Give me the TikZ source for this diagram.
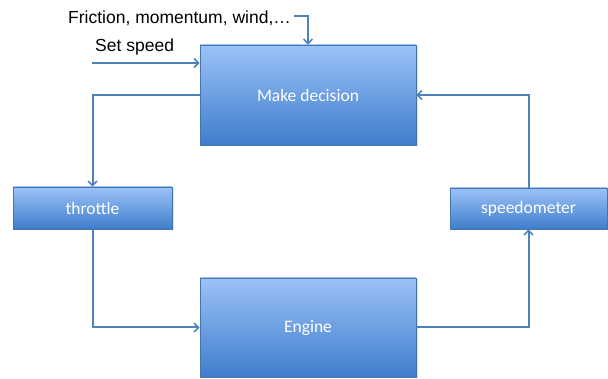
\documentclass[tikz,border=0pt]{standalone}
\usepackage{fontspec}
\setmainfont{Liberation Sans}
\newfontfamily\boxfont{Carlito}
\usetikzlibrary{arrows.meta,shadows}
\definecolor{lineblue}{HTML}{4F81BD}
\definecolor{topblue}{HTML}{9CC2F8}
\definecolor{botblue}{HTML}{3E7DCC}
\tikzset{
  blockbox/.style={draw=lineblue!90!black, line width=0.7pt, top color=topblue, bottom color=botblue,
    text=white, font=\boxfont\fontsize{17.5}{20}\selectfont, inner sep=0pt,
    drop shadow={shadow xshift=1.5pt, shadow yshift=-1.5pt, opacity=0.25}},
  conn/.style={draw=lineblue, line width=2pt, -{Straight Barb[length=4.5pt,width=9pt,line width=1.6pt]}},
  lab/.style={font=\fontsize{17.5}{20}\selectfont, inner sep=0pt, anchor=base west}
}
\begin{document}
\begin{tikzpicture}[x=1pt,y=-1pt]
\useasboundingbox (0,0) rectangle (608,379);
\node[blockbox, minimum width=216pt, minimum height=100pt] (dec) at (308,95) {Make decision};
\node[blockbox, minimum width=159pt, minimum height=42pt] (thr) at (92.5,208) {throttle};
\node[blockbox, minimum width=157pt, minimum height=41pt] (spd) at (528.5,208.5) {speedometer};
\node[blockbox, minimum width=216pt, minimum height=99pt] (eng) at (308,327.5) {Engine};
\node[lab] (fric) at (68,24) {Friction, momentum, wind,…};
\node[lab] (set) at (95,52) {Set speed};
\coordinate (fs) at (294,16);
\coordinate (ss) at (92,63);
\draw[conn] (fs) -| (dec.north);
\draw[conn] (ss) -- (ss -| dec.west);
\draw[conn] (dec.west) -| (thr.north);
\draw[conn] (thr.south) |- (eng.west);
\draw[conn] (eng.east) -| (spd.south);
\draw[conn] (spd.north) |- (dec.east);
\end{tikzpicture}
\end{document}
